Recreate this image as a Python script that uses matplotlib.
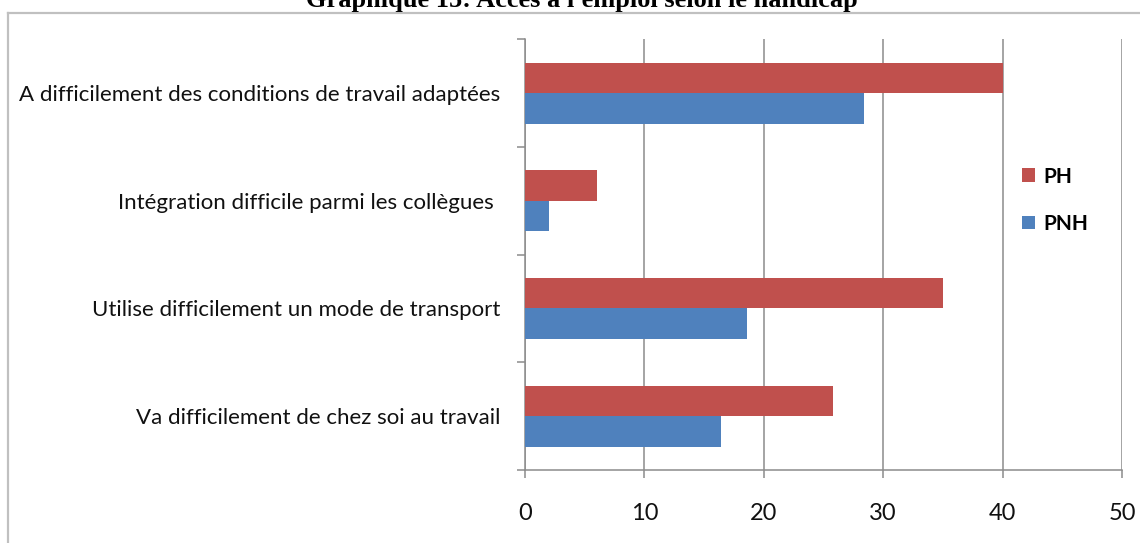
import numpy as np
import matplotlib
matplotlib.use("Agg")
import matplotlib.pyplot as plt
from matplotlib.lines import Line2D

plt.rcParams['font.family'] = ['Lato', 'DejaVu Sans']

# donnees
categories = ["A difficilement des conditions de travail adaptées",
              "Intégration difficile parmi les collègues ",
              "Utilise difficilement un mode de transport",
              "Va difficilement de chez soi au travail"]
ph = [40, 6, 35, 25.8]
pnh = [28.4, 2, 18.6, 16.4]
series_names = ["PH", "PNH"]
xticks = [0, 10, 20, 30, 40, 50]

W, H = 1140, 543
fig = plt.figure(figsize=(W / 100, H / 100), dpi=100)
ax = fig.add_axes([525 / W, 1 - 470 / H, (1122 - 525) / W, (470 - 39.3) / H])

y = np.arange(len(categories))
h = 0.283
ax.barh(y - h / 2, ph, height=h, color='#C0504D', label=series_names[0], zorder=3)
ax.barh(y + h / 2, pnh, height=h, color='#4F81BD', label=series_names[1], zorder=3)

ax.set_ylim(len(categories) - 0.5, -0.5)
ax.set_xlim(0, 50)
ax.set_xticks(xticks)
ax.set_xticklabels([str(t) for t in xticks])
ax.grid(axis='x', color='#8c8c8c', linewidth=1.1, zorder=0)

ax.set_yticks(y)
ax.set_yticklabels(categories)
ax.set_yticks(np.arange(len(categories) + 1) - 0.5, minor=True)
ax.tick_params(axis='y', which='major', length=0, pad=18, labelsize=16, labelcolor='#111111')
ax.tick_params(axis='y', which='minor', length=6, width=1.1, color='#8c8c8c', direction='out')
ax.tick_params(axis='x', length=6, width=1.1, color='#8c8c8c', pad=18, labelsize=17, labelcolor='#111111')

for s in ['top', 'right']:
    ax.spines[s].set_visible(False)
for s in ['left', 'bottom']:
    ax.spines[s].set_color('#8c8c8c')
    ax.spines[s].set_linewidth(1.1)

ax.legend(loc='upper left', bbox_to_anchor=(1003 / W, 1 - 148 / H), bbox_transform=fig.transFigure,
          frameon=False, prop={'size': 15, 'weight': 'bold'}, handlelength=0.65, handleheight=0.65,
          handletextpad=0.4, labelspacing=1.3)

# cadre
fig.add_artist(Line2D([8 / W, 8 / W], [0, 1 - 13 / H], transform=fig.transFigure, color='#c0c0c0', linewidth=1.6))
fig.add_artist(Line2D([8 / W, 1], [1 - 13 / H, 1 - 13 / H], transform=fig.transFigure, color='#c0c0c0', linewidth=1.6))

# titre (coupé en haut comme dans l'original)
fig.text(582 / W, 1 - 7 / H, "Graphique 15: Accès à l'emploi selon le handicap", ha='center', va='baseline',
         fontsize=19, fontweight='bold', family='Liberation Serif')

fig.savefig('out.png', dpi=100)
